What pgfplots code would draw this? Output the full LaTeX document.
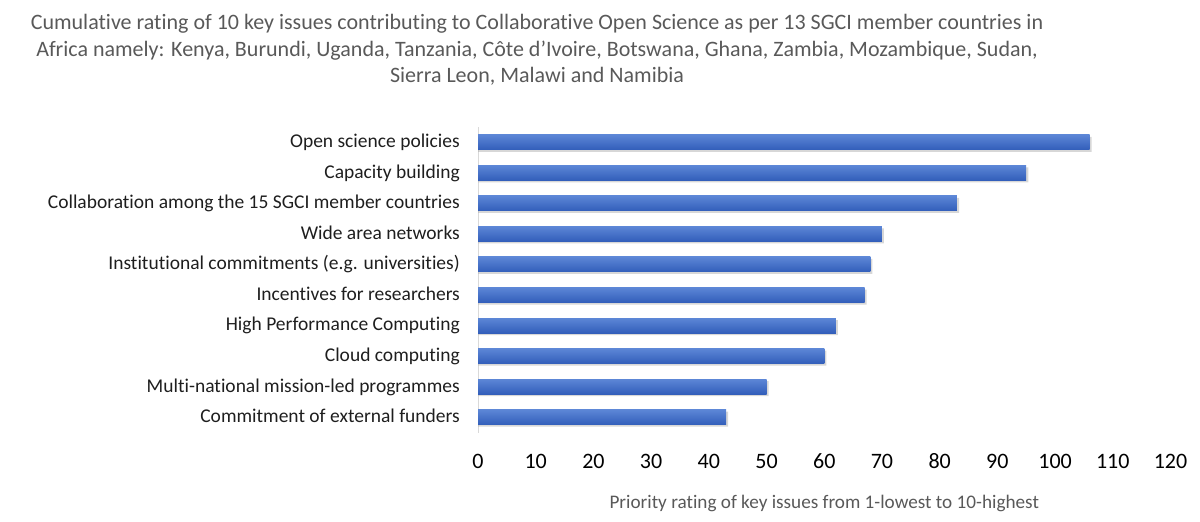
\documentclass[border=0pt]{standalone}
\usepackage{pgfplots}
\pgfplotsset{compat=1.18}
\usepackage{fontspec}
\setmainfont{Carlito}[Ligatures=CommonOff]
\definecolor{titlegray}{RGB}{89,89,89}
\definecolor{labgray}{RGB}{30,30,30}
\definecolor{axgray}{RGB}{217,217,217}
\definecolor{bartop}{RGB}{92,134,214}
\definecolor{barbot}{RGB}{50,94,186}
\definecolor{shad}{RGB}{175,175,175}
\begin{document}
\begin{tikzpicture}
\useasboundingbox (0,0) rectangle (1200bp,522bp);
\node[anchor=base, text=titlegray, font=\fontsize{22bp}{26bp}\selectfont, inner sep=0pt] at (537bp,492bp) {Cumulative rating of 10 key issues contributing to Collaborative Open Science as per 13 SGCI member countries in};
\node[anchor=base, text=titlegray, font=\fontsize{22bp}{26bp}\selectfont, inner sep=0pt] at (537bp,465.5bp) {Africa namely: Kenya, Burundi, Uganda, Tanzania, Côte d’Ivoire, Botswana, Ghana, Zambia, Mozambique, Sudan,};
\node[anchor=base, text=titlegray, font=\fontsize{22bp}{26bp}\selectfont, inner sep=0pt] at (537bp,439bp) {Sierra Leon, Malawi and Namibia};
\begin{axis}[
  at={(478bp,89.5bp)}, anchor=south west,
  width=692.5bp, height=305.5bp, scale only axis,
  xbar, bar width=15bp,
  xmin=0, xmax=120, ymin=-0.5, ymax=9.5,
  xtick={0,10,...,120},
  ytick={0,...,9},
  yticklabels={Commitment of external funders, Multi-national mission-led programmes, Cloud computing, High Performance Computing, Incentives for researchers, Institutional commitments (e.g. universities), Wide area networks, Collaboration among the 15 SGCI member countries, Capacity building, Open science policies},
  /pgf/number format/assume math mode=true,
  major tick length=0pt,
  axis x line*=bottom, axis y line*=left,
  x axis line style={draw=none},
  y axis line style={draw=axgray, line width=0.8bp},
  xticklabel style={anchor=base, inner sep=0pt, yshift=-35.5bp, font=\fontsize{22bp}{26bp}\selectfont, text=black},
  yticklabel style={anchor=mid east, inner sep=0pt, xshift=-18bp, yshift=-3bp, font=\fontsize{19.5bp}{23bp}\selectfont, text=labgray},
  xlabel={Priority rating of key issues from 1-lowest to 10-highest},
  xlabel style={at={(axis description cs:0.5,0)}, anchor=base, inner sep=0pt, yshift=-75.5bp, font=\fontsize{19.2bp}{22bp}\selectfont, text=titlegray},
  every axis plot/.append style={draw=none},
]
% soft shadows
\addplot[fill=shad, opacity=0.5, bar shift=-2bp] coordinates {(106.35,9) (95.35,8) (83.35,7) (70.35,6) (68.35,5) (67.35,4) (62.35,3) (60.35,2) (50.35,1) (43.35,0)};
% bars, each shaded on its own
\addplot[top color=bartop, bottom color=barbot, bar shift=0pt] coordinates {(106,9)};
\addplot[top color=bartop, bottom color=barbot, bar shift=0pt] coordinates {(95,8)};
\addplot[top color=bartop, bottom color=barbot, bar shift=0pt] coordinates {(83,7)};
\addplot[top color=bartop, bottom color=barbot, bar shift=0pt] coordinates {(70,6)};
\addplot[top color=bartop, bottom color=barbot, bar shift=0pt] coordinates {(68,5)};
\addplot[top color=bartop, bottom color=barbot, bar shift=0pt] coordinates {(67,4)};
\addplot[top color=bartop, bottom color=barbot, bar shift=0pt] coordinates {(62,3)};
\addplot[top color=bartop, bottom color=barbot, bar shift=0pt] coordinates {(60,2)};
\addplot[top color=bartop, bottom color=barbot, bar shift=0pt] coordinates {(50,1)};
\addplot[top color=bartop, bottom color=barbot, bar shift=0pt] coordinates {(43,0)};
\end{axis}
\end{tikzpicture}
\end{document}
